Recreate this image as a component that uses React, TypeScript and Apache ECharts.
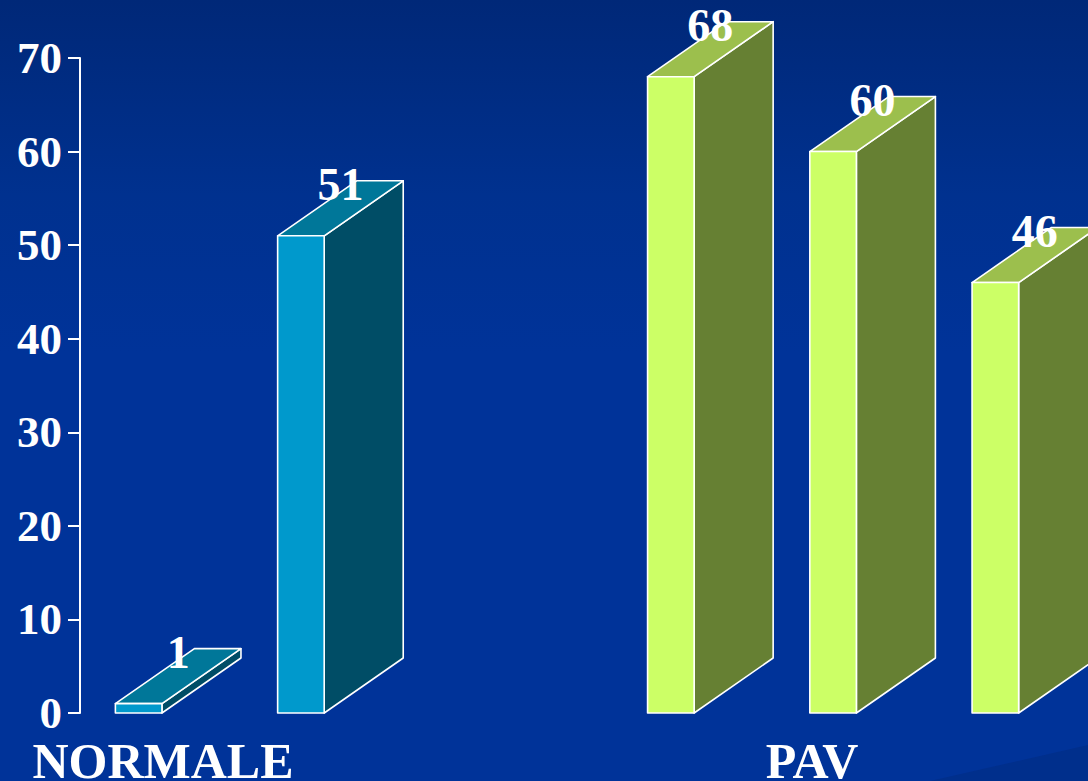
import React, { useEffect, useRef } from "react";
import * as echarts from "echarts";

// ---- data ----
const categories = ["NORMALE", "PAV"];
const seriesA = [1, 68];
const seriesB = [51, 60];
const seriesC: (number | null)[] = [null, 46];
const yTicks = [0, 10, 20, 30, 40, 50, 60, 70];

// ---- layout (slot units on the hidden x value axis) ----
const categoryPos = [0, 4];
const groupStart = [-0.15, 3.13];

const palettes = [
  { front: "#0099CC", top: "#007799", side: "#004D66" },
  { front: "#CCFF66", top: "#9CBF4D", side: "#668033" },
];

const FONT = "'Liberation Serif', 'DejaVu Serif', serif";

export default function App() {
  const ref = useRef<HTMLDivElement>(null);
  useEffect(() => {
    if (!ref.current) return;
    const chart = echarts.init(ref.current, undefined, { renderer: "svg" });
    const seriesList = [seriesA, seriesB, seriesC];
    const data: any[] = [];
    categories.forEach((_, c) => {
      seriesList.forEach((s, si) => {
        const v = s[c];
        if (v !== null && v !== undefined) data.push([c, si, v]);
      });
    });
    const renderItem = (params: any, api: any) => {
      const c = api.value(0);
      const si = api.value(1);
      const v = api.value(2);
      const center = groupStart[c] + si;
      const slot = api.coord([1, 0])[0] - api.coord([0, 0])[0];
      const w = slot * 0.287;
      const dx = slot * 0.487;
      const dy = -slot * 0.339;
      const cx = api.coord([center, 0])[0];
      const yBase = api.coord([center, 0])[1];
      const yTop = api.coord([center, v])[1];
      const x0 = cx - w / 2;
      const x1 = cx + w / 2;
      const pal = palettes[c];
      const stroke = { stroke: "#FFFFFF", lineWidth: 1.6, lineJoin: "round" };
      return {
        type: "group",
        children: [
          {
            type: "polygon",
            shape: { points: [[x1, yTop], [x1 + dx, yTop + dy], [x1 + dx, yBase + dy], [x1, yBase]] },
            style: { fill: pal.side, ...stroke },
          },
          {
            type: "polygon",
            shape: { points: [[x0, yTop], [x1, yTop], [x1 + dx, yTop + dy], [x0 + dx, yTop + dy]] },
            style: { fill: pal.top, ...stroke },
          },
          {
            type: "polygon",
            shape: { points: [[x0, yTop], [x1, yTop], [x1, yBase], [x0, yBase]] },
            style: { fill: pal.front, ...stroke },
          },
          {
            type: "text",
            x: cx + dx / 2,
            y: yTop + dy / 2 - 24,
            style: {
              text: String(v),
              fill: "#FFFFFF",
              font: `bold 46px ${FONT}`,
              align: "center",
              verticalAlign: "middle",
            },
          },
        ],
      };
    };
    chart.setOption({
      animation: false,
      backgroundColor: "transparent",
      grid: { left: 80, right: 0, top: 58, bottom: 68, containLabel: false, outerBoundsMode: "none" },
      graphic: [
        {
          type: "polygon",
          silent: true,
          z: -10,
          shape: { points: [[930, 781], [1088, 745], [1088, 781]] },
          style: { fill: "#002F8C" },
        },
      ],
      xAxis: {
        type: "value",
        min: -0.5116,
        max: 5.701,
        axisLine: { show: false },
        axisTick: { show: false },
        splitLine: { show: false },
        axisLabel: {
          customValues: categoryPos,
          formatter: (val: number) => {
            const i = categoryPos.indexOf(Math.round(val));
            return i >= 0 ? categories[i] : "";
          },
          color: "#FFFFFF",
          fontFamily: FONT,
          fontWeight: "bold",
          fontSize: 50,
          lineHeight: 36,
          margin: 30,
        },
      },
      yAxis: {
        type: "value",
        min: yTicks[0],
        max: yTicks[yTicks.length - 1],
        interval: 10,
        axisLine: { show: true, onZero: false, lineStyle: { color: "#FFFFFF", width: 2 } },
        axisTick: { show: true, length: 12, lineStyle: { color: "#FFFFFF", width: 2 } },
        splitLine: { show: false },
        axisLabel: {
          color: "#FFFFFF",
          fontFamily: FONT,
          fontWeight: "bold",
          fontSize: 45,
          lineHeight: 34,
          margin: 18,
        },
      },
      series: [
        {
          type: "custom",
          renderItem,
          clip: false,
          data,
          encode: { x: 0, y: 2 },
        },
      ],
    });
    return () => chart.dispose();
  }, []);
  return (
    <div
      ref={ref}
      style={{
        position: "fixed",
        left: 0,
        top: 0,
        width: 1088,
        height: 781,
        background: "linear-gradient(180deg, #002878 0%, #00318F 25%, #003399 45%, #003399 100%)",
      }}
    />
  );
}
